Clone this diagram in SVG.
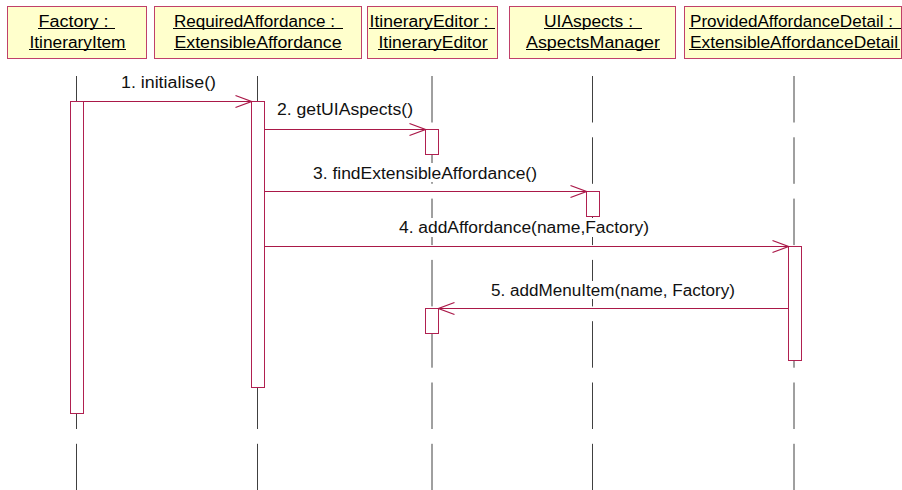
<svg xmlns="http://www.w3.org/2000/svg" width="902" height="490" viewBox="0 0 902 490">
<style>
  .box { fill: #ffffcc; stroke: #c0406a; stroke-width: 1; }
  .hdr { font-family: "Liberation Sans", Arial, sans-serif; font-size: 16px; fill: #000; }
  .ul { stroke: #000; stroke-width: 1; }
  .life { stroke: #404040; stroke-width: 1; stroke-dasharray: 46.5 14.8; fill: none; }
  .act { fill: #fff; stroke: #b02050; stroke-width: 1; }
  .msg { stroke: #aa1848; stroke-width: 1; fill: none; marker-end: url(#open); }
  .lbl { font-family: "Liberation Sans", Arial, sans-serif; font-size: 16px; fill: #111; }
  .lblbg { fill: #fff; stroke: none; }
</style>
<defs>
  <marker id="open" markerUnits="userSpaceOnUse" markerWidth="20" markerHeight="16" refX="0" refY="0" viewBox="-18 -8 20 16" orient="auto" overflow="visible">
    <path d="M-16,-6 L0,0 L-16,6" fill="none" stroke="#aa1848" stroke-width="1.3"/>
  </marker>
</defs>
<rect width="902" height="490" fill="#fff"/>

<g id="lifelines">
  <line class="life" x1="76.5" y1="76" x2="76.5" y2="490"/>
  <line class="life" x1="257.5" y1="76" x2="257.5" y2="490"/>
  <line class="life" x1="432" y1="76" x2="432" y2="490"/>
  <line class="life" x1="592.5" y1="76" x2="592.5" y2="490"/>
  <line class="life" x1="794" y1="76" x2="794" y2="490"/>
</g>

<g id="node-factory">
  <rect class="box" x="7.5" y="6.5" width="139" height="52"/>
  <text class="hdr" x="38.5" y="27" textLength="70" lengthAdjust="spacingAndGlyphs">Factory :</text>
  <line class="ul" x1="38" y1="28.5" x2="115" y2="28.5"/>
  <text class="hdr" x="29.5" y="48" textLength="96" lengthAdjust="spacingAndGlyphs">ItineraryItem</text>
  <line class="ul" x1="29" y1="49.5" x2="126" y2="49.5"/>
</g>
<g id="node-required">
  <rect class="box" x="154.5" y="6.5" width="207" height="52"/>
  <text class="hdr" x="174" y="27" textLength="161" lengthAdjust="spacingAndGlyphs">RequiredAffordance :</text>
  <line class="ul" x1="173" y1="28.5" x2="343" y2="28.5"/>
  <text class="hdr" x="174.5" y="48" textLength="167" lengthAdjust="spacingAndGlyphs">ExtensibleAffordance</text>
  <line class="ul" x1="174" y1="49.5" x2="342" y2="49.5"/>
</g>
<g id="node-editor">
  <rect class="box" x="367.5" y="6.5" width="130" height="52"/>
  <text class="hdr" x="369.5" y="27" textLength="119" lengthAdjust="spacingAndGlyphs">ItineraryEditor :</text>
  <line class="ul" x1="369" y1="28.5" x2="495" y2="28.5"/>
  <text class="hdr" x="378.5" y="48" textLength="109" lengthAdjust="spacingAndGlyphs">ItineraryEditor</text>
  <line class="ul" x1="378" y1="49.5" x2="488" y2="49.5"/>
</g>
<g id="node-uiaspects">
  <rect class="box" x="509.5" y="6.5" width="166" height="52"/>
  <text class="hdr" x="544" y="27" textLength="89" lengthAdjust="spacingAndGlyphs">UIAspects :</text>
  <line class="ul" x1="544" y1="28.5" x2="642" y2="28.5"/>
  <text class="hdr" x="526" y="48" textLength="134" lengthAdjust="spacingAndGlyphs">AspectsManager</text>
  <line class="ul" x1="526" y1="49.5" x2="660" y2="49.5"/>
</g>
<g id="node-provided">
  <rect class="box" x="684.5" y="6.5" width="217" height="52"/>
  <text class="hdr" x="690" y="27" textLength="203" lengthAdjust="spacingAndGlyphs">ProvidedAffordanceDetail :</text>
  <line class="ul" x1="689" y1="28.5" x2="901" y2="28.5"/>
  <text class="hdr" x="690" y="48" textLength="208" lengthAdjust="spacingAndGlyphs">ExtensibleAffordanceDetail</text>
  <line class="ul" x1="689" y1="49.5" x2="900" y2="49.5"/>
</g>

<g id="activations">
  <rect class="act" x="70.5" y="101.5" width="13" height="312"/>
  <rect class="act" x="251.5" y="101.5" width="13" height="286"/>
  <rect class="act" x="425.5" y="129.5" width="13" height="25"/>
  <rect class="act" x="586.5" y="191.5" width="13" height="25"/>
  <rect class="act" x="788.5" y="246.5" width="13" height="114"/>
  <rect class="act" x="425.5" y="308.5" width="13" height="25"/>
</g>

<g id="connectors">
  <line class="msg" x1="83.5" y1="101.5" x2="251.5" y2="101.5"/>
  <line class="msg" x1="264.5" y1="129.5" x2="425.5" y2="129.5"/>
  <line class="msg" x1="264.5" y1="191.5" x2="586.5" y2="191.5"/>
  <line class="msg" x1="264.5" y1="246.5" x2="788.5" y2="246.5"/>
  <line class="msg" x1="788.5" y1="308.5" x2="438.5" y2="308.5"/>
</g>

<g id="labels">
  <rect class="lblbg" x="119" y="73" width="99" height="19"/>
  <text class="lbl" x="121" y="88" textLength="95" lengthAdjust="spacingAndGlyphs">1. initialise()</text>
  <rect class="lblbg" x="275" y="100" width="140" height="19"/>
  <text class="lbl" x="277" y="115" textLength="136" lengthAdjust="spacingAndGlyphs">2. getUIAspects()</text>
  <rect class="lblbg" x="311" y="163" width="228" height="19"/>
  <text class="lbl" x="313" y="178.5" textLength="224" lengthAdjust="spacingAndGlyphs">3. findExtensibleAffordance()</text>
  <rect class="lblbg" x="397" y="218" width="254" height="19"/>
  <text class="lbl" x="399" y="233" textLength="250" lengthAdjust="spacingAndGlyphs">4. addAffordance(name,Factory)</text>
  <rect class="lblbg" x="489" y="281" width="248" height="18"/>
  <text class="lbl" x="491" y="296" textLength="244" lengthAdjust="spacingAndGlyphs">5. addMenuItem(name, Factory)</text>
</g>
</svg>
